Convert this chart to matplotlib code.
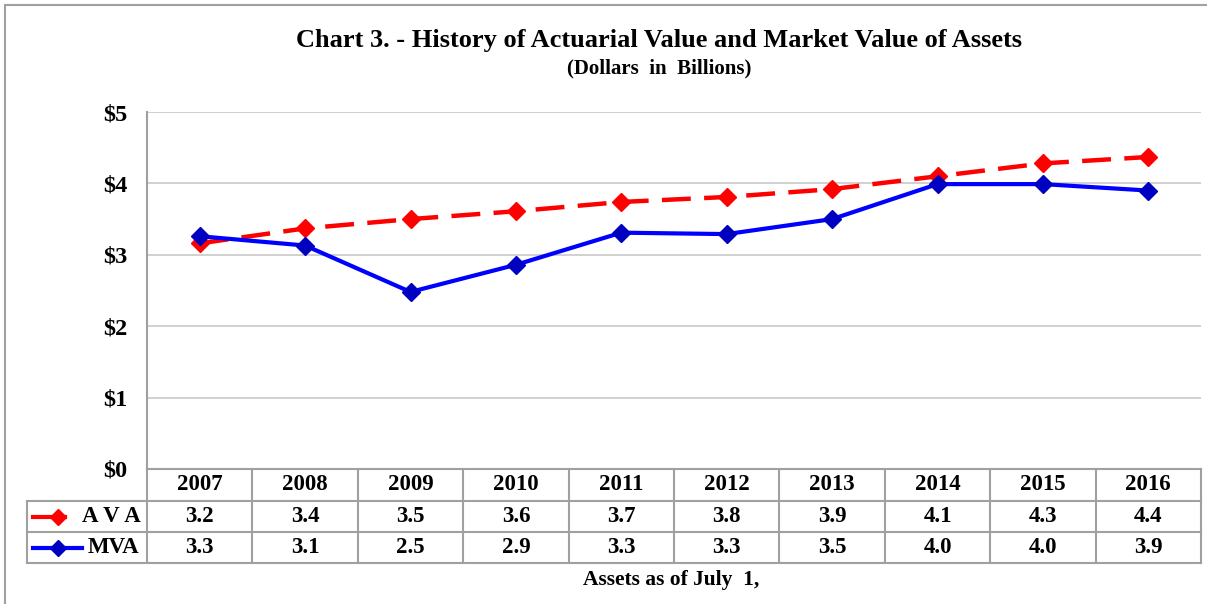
import numpy as np
import matplotlib
matplotlib.use("Agg")
import matplotlib.pyplot as plt
from matplotlib.patches import Rectangle

# data
years = ["2007", "2008", "2009", "2010", "2011", "2012", "2013", "2014", "2015", "2016"]
ava = [3.16, 3.37, 3.50, 3.61, 3.74, 3.81, 3.92, 4.10, 4.28, 4.37]
mva = [3.26, 3.13, 2.48, 2.86, 3.31, 3.29, 3.50, 3.99, 3.99, 3.90]
ava_labels = ["3.2", "3.4", "3.5", "3.6", "3.7", "3.8", "3.9", "4.1", "4.3", "4.4"]
mva_labels = ["3.3", "3.1", "2.5", "2.9", "3.3", "3.3", "3.5", "4.0", "4.0", "3.9"]
yticks = [0, 1, 2, 3, 4, 5]

plt.rcParams['font.family'] = ['Liberation Serif', 'DejaVu Serif']
plt.rcParams['font.weight'] = 'bold'

W, H = 1207, 604
fig = plt.figure(figsize=(W / 100, H / 100), dpi=100)

# outer chart border
fig.patches.append(Rectangle((4.5 / W, -0.01), 1.02 - 4.5 / W, 1 - 5 / H + 0.01,
                             transform=fig.transFigure, fill=False,
                             edgecolor='#a0a0a0', linewidth=1.5))

left, right, top, bottom = 147, 1201, 112, 469
ax = fig.add_axes([left / W, 1 - bottom / H, (right - left) / W, (bottom - top) / H])

x = np.arange(len(years))
ax.plot(x, ava, color='#ff0000', linewidth=3.2, linestyle=(0, (6.5, 3)),
        marker='D', markersize=9.5, markerfacecolor='#ff0000', markeredgecolor='#ff0000',
        zorder=3)
ax.plot(x, mva, color='#0000ff', linewidth=3,
        marker='D', markersize=9.5, markerfacecolor='#0000c0', markeredgecolor='#0000c0',
        zorder=4)

ax.set_xlim(-0.5, len(years) - 0.5)
ax.set_ylim(0, 5)
ax.set_yticks(yticks)
ax.set_yticklabels([f"${v}" for v in yticks], fontsize=17.5, fontweight='bold')
ax.tick_params(axis='y', length=0, pad=14)
ax.set_xticks([])
ax.grid(axis='y', color='#c8c8c8', linewidth=1.2)
ax.set_axisbelow(True)
for s in ['top', 'right', 'bottom']:
    ax.spines[s].set_visible(False)
ax.spines['left'].set_color('#a0a0a0')
ax.spines['left'].set_linewidth(1.5)

# data table below the plot
ph = bottom - top
r1 = -(501 - bottom) / ph
r2 = -(532 - bottom) / ph
r3 = -(563 - bottom) / ph
colw = (right - left) / len(years)
def px2x(p):
    return -0.5 + (p - left) / colw
lab_left = px2x(27)
tc = '#a0a0a0'
kw = dict(color=tc, linewidth=1.5, clip_on=False, transform=ax.get_xaxis_transform())
ax.plot([-0.5, len(years) - 0.5], [0, 0], **kw)
for yy in [r1, r2, r3]:
    ax.plot([lab_left, len(years) - 0.5], [yy, yy], **kw)
for i in range(len(years) + 1):
    ax.plot([i - 0.5, i - 0.5], [0, r3], **kw)
ax.plot([lab_left, lab_left], [r1, r3], **kw)

tkw = dict(transform=ax.get_xaxis_transform(), ha='center', va='center',
           fontsize=16.5, fontweight='bold', clip_on=False)
for i, yr in enumerate(years):
    ax.text(i, (0 + r1) / 2, yr, **tkw)
    ax.text(i, (r1 + r2) / 2, ava_labels[i], **tkw)
    ax.text(i, (r2 + r3) / 2, mva_labels[i], **tkw)

# legend keys inside the table
lkw = dict(transform=ax.get_xaxis_transform(), clip_on=False)
ax.plot([px2x(33), px2x(65)], [(r1 + r2) / 2] * 2, color='#ff0000', linewidth=3, **lkw)
ax.plot([px2x(58)], [(r1 + r2) / 2], marker='D', markersize=8, color='#ff0000', **lkw)
ax.plot([px2x(33), px2x(82)], [(r2 + r3) / 2] * 2, color='#0000ff', linewidth=3, **lkw)
ax.plot([px2x(58)], [(r2 + r3) / 2], marker='D', markersize=8, color='#0000c0', **lkw)
ax.text(px2x(111), (r1 + r2) / 2, "A\u2009V\u2009A", ha='center', va='center', fontsize=16.5,
        fontweight='bold', transform=ax.get_xaxis_transform())
ax.text(px2x(113), (r2 + r3) / 2, "MVA", ha='center', va='center', fontsize=16.5,
        fontweight='bold', transform=ax.get_xaxis_transform())

fig.text(659 / W, 1 - 40 / H, "Chart 3. - History of Actuarial Value and Market Value of Assets",
         ha='center', va='center', fontsize=19, fontweight='bold')
fig.text(659 / W, 1 - 68 / H, "(Dollars  in  Billions)",
         ha='center', va='center', fontsize=15, fontweight='bold')
fig.text(671 / W, 1 - 580 / H, "Assets as of July  1,",
         ha='center', va='center', fontsize=15.5, fontweight='bold')

fig.savefig("out.png", dpi=100)
